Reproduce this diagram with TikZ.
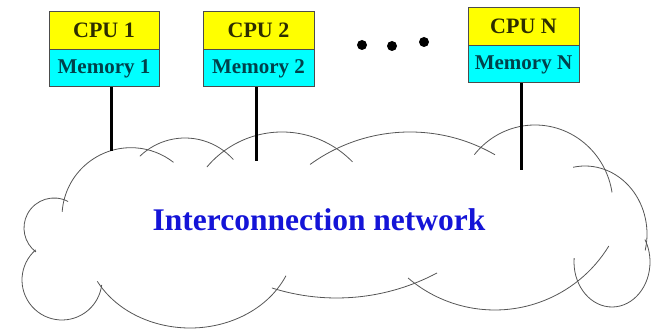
\documentclass[tikz,border=0pt]{standalone}
\usepackage{fontspec}
\setmainfont{Liberation Serif}
\definecolor{cpufill}{RGB}{255,255,0}
\definecolor{memfill}{RGB}{0,255,255}
\definecolor{cputext}{RGB}{45,45,0}
\definecolor{memtext}{RGB}{0,65,75}
\definecolor{nettext}{RGB}{20,20,215}
\definecolor{cloudgray}{RGB}{85,85,85}
\newcommand\carc[6]{\draw[cloudline] ([shift={(#1,#2)}]#3:#5pt and #6pt) arc[start angle=#3,end angle=#4,x radius=#5pt,y radius=#6pt];}
\begin{document}
\begin{tikzpicture}[x=1pt,y=1pt,
  cloudline/.style={draw=cloudgray, line width=0.8pt},
  cpubox/.style={draw=black!70, line width=0.9pt, fill=cpufill, minimum width=110pt, minimum height=38pt, inner sep=0pt, text=cputext, font=\bfseries\fontsize{22}{24}\selectfont},
  membox/.style={draw=black!70, line width=0.9pt, fill=memfill, minimum width=110pt, minimum height=37pt, inner sep=0pt, text=memtext, font=\bfseries\fontsize{21}{23}\selectfont},
  link/.style={line width=3pt, black},
  dotmark/.style={circle, fill=black, inner sep=0pt, minimum size=10pt},
  netlabel/.style={text=nettext, font=\bfseries\fontsize{31.5}{34}\selectfont}]
\useasboundingbox (0,0) rectangle (652,331);
% cloud
\carc{131}{114.3}{176}{52}{69}{69}
\carc{185}{128}{134}{42}{65}{65}
\carc{282}{101}{140}{44}{98}{98}
\carc{410}{29}{126}{60}{170}{170}
\carc{535}{126}{141}{9}{78}{80}
\carc{585}{97}{101}{-14}{62}{68}
\carc{612}{69}{175}{390}{38}{45}
\carc{494.8}{154.6}{229.5}{328.6}{133.6}{133.6}
\carc{336.6}{247}{252.4}{298}{214}{214}
\carc{190}{91}{208}{336}{105}{88}
\carc{62}{51}{131}{353}{40}{40}
\carc{54}{103}{62}{233}{30}{30}
\node[netlabel] (net) at (319,111) {Interconnection network};
% processors
\node[cpubox] (cpu1) at (104,301) {CPU 1};
\node[membox, anchor=north] (mem1) at (cpu1.south) {Memory 1};
\node[cpubox, minimum width=111pt] (cpu2) at (258.5,301) {CPU 2};
\node[membox, minimum width=111pt, anchor=north] (mem2) at (cpu2.south) {Memory 2};
\node[cpubox, minimum width=111pt] (cpun) at (523.5,305) {CPU N};
\node[membox, minimum width=111pt, anchor=north] (memn) at (cpun.south) {Memory N};
% dots
\node[dotmark] (d1) at (362,286) {};
\node[dotmark] (d2) at (392,285) {};
\node[dotmark] (d3) at (424,289) {};
% links
\coordinate (e1) at (111,180);
\coordinate (e2) at (256,170);
\coordinate (e3) at (521,161);
\draw[link] (mem1.south -| e1) -- (e1);
\draw[link] (mem2.south -| e2) -- (e2);
\draw[link] (memn.south -| e3) -- (e3);
\end{tikzpicture}
\end{document}
